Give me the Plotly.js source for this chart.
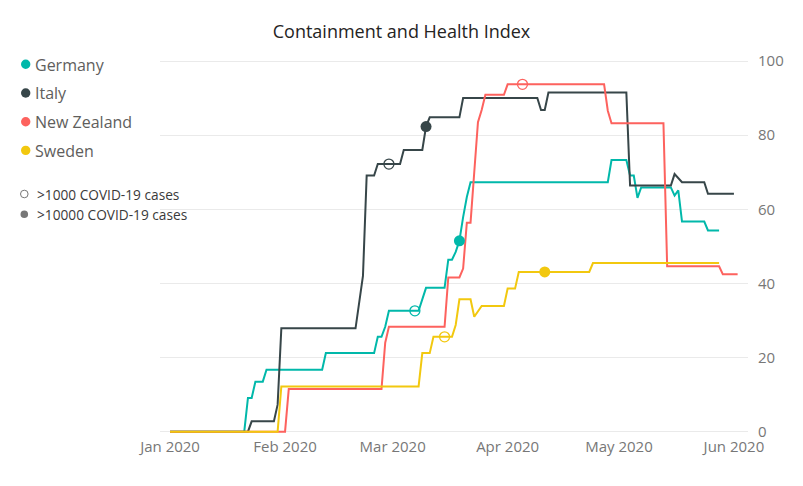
<!DOCTYPE html>
<html>
<head>
<meta charset="utf-8">
<script src="https://cdn.plot.ly/plotly-3.0.1.min.js"></script>
<style>html,body{margin:0;padding:0;background:#fff;}#chart{width:803px;height:486px;}</style>
</head>
<body>
<div id="chart"></div>
<script>
// ---------- data ----------
const countries = ['Germany', 'Italy', 'New Zealand', 'Sweden'];
const countryColors = ['#01B8AA', '#374649', '#FD625E', '#F2C80F'];

const germanyDates = ['2020-01-01','2020-01-21','2020-01-22','2020-01-23','2020-01-24','2020-01-26','2020-01-27','2020-02-11','2020-02-12','2020-02-25','2020-02-26','2020-02-27','2020-02-28','2020-02-29','2020-03-07','2020-03-08','2020-03-10','2020-03-15','2020-03-16','2020-03-17','2020-03-18','2020-03-19','2020-03-20','2020-03-21','2020-03-22','2020-04-28','2020-04-29','2020-05-03','2020-05-04','2020-05-05','2020-05-06','2020-05-07','2020-05-15','2020-05-16','2020-05-17','2020-05-18','2020-05-24','2020-05-25','2020-05-28'];
const germanyValues = [0,0,9.1,9.1,13.5,13.5,16.7,16.7,21.2,21.2,25.6,25.6,28.3,32.6,32.6,32.6,38.8,38.8,46.4,46.4,48.5,51.5,57.9,63.3,67.3,67.3,73.3,73.3,69.1,69.1,63.1,65.9,65.9,63.7,65.1,56.7,56.7,54.3,54.3];

const italyDates = ['2020-01-01','2020-01-22','2020-01-23','2020-01-29','2020-01-30','2020-01-31','2020-02-20','2020-02-22','2020-02-23','2020-02-25','2020-02-26','2020-02-29','2020-03-03','2020-03-04','2020-03-09','2020-03-10','2020-03-11','2020-03-19','2020-03-20','2020-04-09','2020-04-10','2020-04-11','2020-04-12','2020-05-03','2020-05-04','2020-05-15','2020-05-16','2020-05-18','2020-05-24','2020-05-25','2020-06-01'];
const italyValues = [0,0,2.8,2.8,7.3,27.9,27.9,42,69.1,69.1,72.2,72.2,72.2,76,76,82.3,84.8,84.8,90,90,86.8,86.8,91.5,91.5,66.4,66.4,69.5,67.3,67.3,64.2,64.2];

const newZealandDates = ['2020-01-01','2020-02-01','2020-02-02','2020-02-27','2020-02-28','2020-02-29','2020-03-15','2020-03-16','2020-03-19','2020-03-20','2020-03-21','2020-03-22','2020-03-23','2020-03-24','2020-03-25','2020-03-26','2020-03-31','2020-04-01','2020-04-05','2020-04-27','2020-04-28','2020-04-29','2020-05-13','2020-05-14','2020-05-28','2020-05-29','2020-06-02'];
const newZealandValues = [0,0,11.5,11.5,24,28.3,28.3,41.6,41.6,44,56.4,56.4,70,83.5,86.8,90.9,90.9,93.7,93.7,93.7,86.6,83.2,83.2,44.6,44.6,42.5,42.5];

const swedenDates = ['2020-01-01','2020-01-30','2020-01-31','2020-03-08','2020-03-09','2020-03-11','2020-03-12','2020-03-15','2020-03-17','2020-03-18','2020-03-19','2020-03-22','2020-03-23','2020-03-25','2020-03-31','2020-04-01','2020-04-03','2020-04-04','2020-04-11','2020-04-23','2020-04-24','2020-05-28'];
const swedenValues = [0,0,12.2,12.2,21.2,21.2,25.6,25.6,25.6,28.8,35.7,35.7,31,33.9,33.9,38.6,38.6,43.1,43.1,43.1,45.5,45.5];

// milestone dates, same order as countries
const milestoneLabels = ['>1000 COVID-19 cases', '>10000 COVID-19 cases'];
const cases1000Dates = ['2020-03-07', '2020-02-29', '2020-04-05', '2020-03-15'];
const cases10000Dates = ['2020-03-19', '2020-03-10', null, '2020-04-11'];

const xTickDates = ['2020-01-01','2020-02-01','2020-03-01','2020-04-01','2020-05-01','2020-06-01'];
const xTickLabels = ['Jan 2020','Feb 2020','Mar 2020','Apr 2020','May 2020','Jun 2020'];
const yTickValues = [0, 20, 40, 60, 80, 100];

const chartTitle = 'Containment and Health Index';

// ---------- build ----------
const seriesDates = [germanyDates, italyDates, newZealandDates, swedenDates];
const seriesValues = [germanyValues, italyValues, newZealandValues, swedenValues];

const FONT = '"Segoe UI", "Open Sans", "Noto Sans", sans-serif';
const W = 803, H = 486;
const L = 160, R = 748, T = 57, B = 436;
const px2x = px => (px - L) / (R - L);
const py2y = py => (B - py) / (B - T);

const traces = [];
countries.forEach((c, i) => {
  traces.push({
    type: 'scatter', mode: 'lines', name: c,
    x: seriesDates[i], y: seriesValues[i],
    line: {color: countryColors[i], width: 2},
    hoverinfo: 'x+y+name', showlegend: false
  });
});
function valueAt(i, d) {
  const k = seriesDates[i].indexOf(d);
  return k >= 0 ? seriesValues[i][k] : null;
}
countries.forEach((c, i) => {
  if (cases1000Dates[i]) {
    traces.push({
      type: 'scatter', mode: 'markers', name: c + ' ' + milestoneLabels[0],
      x: [cases1000Dates[i]], y: [valueAt(i, cases1000Dates[i])],
      marker: {symbol: 'circle-open', size: 10, color: countryColors[i], line: {width: 1.3}},
      showlegend: false
    });
  }
  if (cases10000Dates[i]) {
    traces.push({
      type: 'scatter', mode: 'markers', name: c + ' ' + milestoneLabels[1],
      x: [cases10000Dates[i]], y: [valueAt(i, cases10000Dates[i])],
      marker: {symbol: 'circle', size: 11, color: countryColors[i]},
      showlegend: false
    });
  }
});

const shapes = [];
const annotations = [];
// country legend
countries.forEach((c, i) => {
  const cy = 64.3 + i * 28.7;
  shapes.push({type: 'circle', xref: 'paper', yref: 'paper', xsizemode: 'pixel', ysizemode: 'pixel',
    xanchor: px2x(25.7), yanchor: py2y(cy), x0: -4.7, x1: 4.7, y0: -4.7, y1: 4.7,
    fillcolor: countryColors[i], line: {width: 0}});
  annotations.push({xref: 'paper', yref: 'paper', x: px2x(33), y: py2y(cy + 0.5), xanchor: 'left', yanchor: 'middle',
    showarrow: false, text: c, font: {family: FONT, size: 16, color: '#605E5C'}});
});
// milestone legend
milestoneLabels.forEach((lab, j) => {
  const cy = 194 + j * 20.3;
  shapes.push({type: 'circle', xref: 'paper', yref: 'paper', xsizemode: 'pixel', ysizemode: 'pixel',
    xanchor: px2x(24.3), yanchor: py2y(cy), x0: -3.8, x1: 3.8, y0: -3.8, y1: 3.8,
    fillcolor: j === 0 ? 'rgba(0,0,0,0)' : '#777777', line: {width: j === 0 ? 1 : 0, color: '#777777'}});
  annotations.push({xref: 'paper', yref: 'paper', x: px2x(34.5), y: py2y(cy), xanchor: 'left', yanchor: 'middle',
    showarrow: false, text: lab, font: {family: FONT, size: 13.7, color: '#3a3a3a'}});
});

const layout = {
  width: W, height: H,
  margin: {l: L, r: W - R, t: T, b: H - B, pad: 0},
  paper_bgcolor: '#ffffff', plot_bgcolor: '#ffffff',
  showlegend: false,
  title: {text: chartTitle, x: 0.5, xref: 'container', xanchor: 'center',
    y: 1 - 32 / H, yref: 'container', yanchor: 'middle',
    font: {family: FONT, size: 18, color: '#252423'}},
  xaxis: {type: 'date', range: ['2019-12-29 07:00', '2020-06-04 19:00'],
    tickmode: 'array', tickvals: xTickDates, ticktext: xTickLabels,
    showgrid: false, zeroline: false, showline: false, ticks: '',
    tickfont: {family: FONT, size: 15, color: '#777777'}},
  yaxis: {side: 'right', range: [-1.16, 101.08], tickmode: 'array', tickvals: yTickValues,
    showgrid: true, gridcolor: '#EAEAEA', gridwidth: 1, zeroline: false, showline: false, ticks: '',
    ticklabelstandoff: 9,
    tickfont: {family: FONT, size: 15, color: '#777777'}},
  shapes: shapes,
  annotations: annotations
};

Plotly.newPlot('chart', traces, layout, {displayModeBar: false, staticPlot: true});
</script>
</body>
</html>
